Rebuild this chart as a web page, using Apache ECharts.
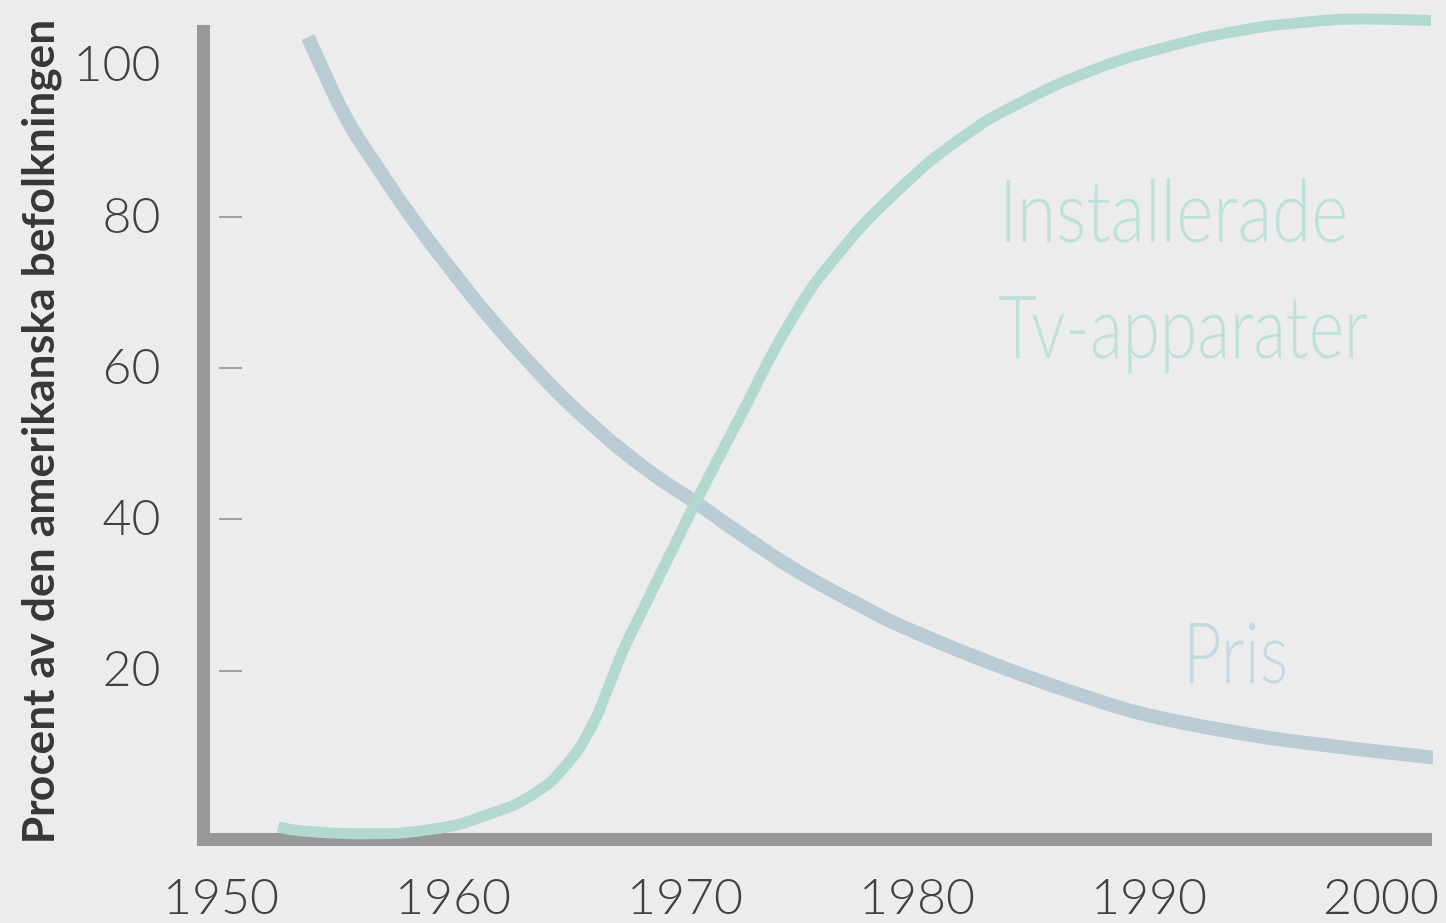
<!DOCTYPE html>
<html>
<head>
<meta charset="utf-8">
<script src="https://cdn.jsdelivr.net/npm/echarts@6/dist/echarts.min.js"></script>
<style>
  html, body { margin: 0; padding: 0; background: #ececec; }
  #chart { width: 1446px; height: 923px; }
</style>
</head>
<body>
<div id="chart"></div>
<script>
  // Pris (price)
  const prisYears = [1953.75, 1954.4, 1955.43, 1956.72, 1958.28, 1959.91, 1961.64, 1963.5, 1965.34, 1968.19, 1970.3, 1973.23, 1974.96, 1977.97, 1979.27, 1983.58, 1987.89, 1990.04, 1993.92, 1996.51, 2002.46]
  const prisValues = [103.7, 99.3, 92.8, 86.6, 79.6, 73.0, 66.4, 60.0, 54.3, 46.9, 42.5, 36.3, 32.9, 27.9, 25.9, 20.5, 15.9, 14.0, 11.7, 10.5, 8.4]

  // Installerade Tv-apparater
  const tvYears = [1952.46, 1953.41, 1956.29, 1959.14, 1961.29, 1963.45, 1964.91, 1966.03, 1966.64, 1967.33, 1968.02, 1969.4, 1970.43, 1972.46, 1974.61, 1976.68, 1979.35, 1981.98, 1984.44, 1987.89, 1990.78, 1993.62, 1996.51, 1999.4, 2002.63]
  const tvValues = [-0.7, -1.2, -1.6, -1.0, 0.7, 3.6, 7.6, 12.9, 17.3, 22.6, 27.0, 35.6, 42.0, 54.0, 66.4, 75.3, 83.9, 90.5, 95.0, 99.7, 102.4, 104.4, 105.6, 106.1, 105.8]

  const xTicks = [1950, 1960, 1970, 1980, 1990, 2000]
  const yLabels = [20, 40, 60, 80, 100]
  const yTicks = [20, 40, 60, 80]

  const pair = (xs, ys) => xs.map((x, i) => [x, ys[i]])

  const chart = echarts.init(document.getElementById('chart'))
  chart.setOption({
    animation: false,
    backgroundColor: '#ececec',
    grid: { left: 203.5, top: 25, right: 20.5, bottom: 81 },
    xAxis: {
      type: 'value',
      min: 1949.246,
      max: 2001.92,
      splitLine: { show: false },
      axisTick: { show: false },
      axisLine: { onZero: false, lineStyle: { color: '#989898', width: 13, cap: 'square' } },
      axisLabel: {
        customValues: xTicks,
        formatter: v => String(v),
        margin: 34,
        color: '#404040',
        fontFamily: 'Lato',
        fontWeight: 300,
        fontSize: 50
      }
    },
    yAxis: [
      {
        type: 'value',
        min: -2.3,
        max: 105.3,
        name: 'Procent av den amerikanska befolkningen',
        nameLocation: 'middle',
        nameGap: 158,
        nameTextStyle: {
          color: '#383838',
          fontFamily: 'Lato',
          fontWeight: 'bold',
          fontSize: 44.5,
          align: 'center',
          verticalAlign: 'middle'
        },
        splitLine: { show: false },
        axisTick: { show: false },
        axisLine: { show: true, lineStyle: { color: '#989898', width: 13, cap: 'butt' } },
        axisLabel: {
          customValues: yLabels,
          margin: 43,
          color: '#404040',
          fontFamily: 'Lato',
          fontWeight: 300,
          fontSize: 50
        }
      },
      {
        // short tick marks, set a bit inside the axis line
        type: 'value',
        position: 'left',
        offset: -15.5,
        min: -2.3,
        max: 105.3,
        splitLine: { show: false },
        axisLine: { show: false },
        axisLabel: { show: false },
        axisTick: {
          show: true,
          inside: true,
          length: 23,
          customValues: yTicks,
          lineStyle: { color: '#a0a0a0', width: 2 }
        }
      }
    ],
    graphic: [
      {
        type: 'text', x: 999, y: 156, scaleX: 0.826,
        style: { text: 'Installerade', fill: '#bfe0da', font: '300 86px "Lato"', lineHeight: 116 }
      },
      {
        type: 'text', x: 998, y: 272, scaleX: 0.786,
        style: { text: 'Tv-apparater', fill: '#bfe0da', font: '300 86px "Lato"', lineHeight: 116 }
      },
      {
        type: 'text', x: 1183, y: 614, scaleX: 0.8,
        style: { text: 'Pris', fill: '#c6d9e1', font: '300 84px "Lato"' }
      }
    ],
    series: [
      {
        name: 'Pris',
        type: 'line',
        data: pair(prisYears, prisValues),
        smooth: 0.5,
        showSymbol: false,
        clip: false,
        lineStyle: { color: '#b9cbd4', width: 14, cap: 'butt' }
      },
      {
        name: 'Installerade Tv-apparater',
        type: 'line',
        data: pair(tvYears, tvValues),
        smooth: 0.5,
        showSymbol: false,
        clip: false,
        lineStyle: { color: '#b2d8cf', width: 11, cap: 'butt' }
      }
    ]
  })
</script>
</body>
</html>
